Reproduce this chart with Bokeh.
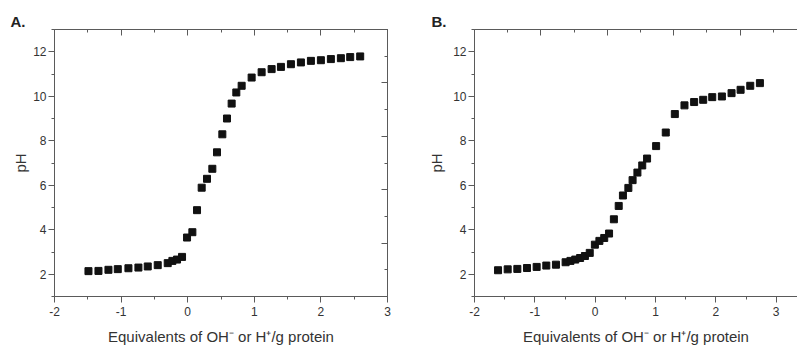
from bokeh.plotting import figure
from bokeh.layouts import row
from bokeh.models import (Range1d, LinearAxis, SingleIntervalTicker,
                          CustomJSTickFormatter)
from bokeh.embed import file_html
from bokeh.resources import INLINE

# Panel A data
xA = [-1.49, -1.34, -1.19, -1.05, -0.89, -0.74, -0.60, -0.45, -0.30, -0.23,
      -0.16, -0.085, -0.01, 0.07, 0.14, 0.21, 0.29, 0.37, 0.44, 0.52,
      0.59, 0.66, 0.73, 0.81, 0.96, 1.11, 1.26, 1.40, 1.55, 1.70,
      1.85, 2.00, 2.15, 2.30, 2.44, 2.59]
yA = [2.14, 2.15, 2.20, 2.23, 2.27, 2.30, 2.35, 2.41, 2.50, 2.60,
      2.66, 2.78, 3.65, 3.89, 4.88, 5.89, 6.29, 6.74, 7.48, 8.29,
      9.00, 9.67, 10.17, 10.47, 10.84, 11.08, 11.22, 11.32, 11.44, 11.52,
      11.59, 11.62, 11.67, 11.71, 11.76, 11.79]

# Panel B data
xB = [-1.61, -1.45, -1.29, -1.13, -0.97, -0.81, -0.65, -0.49, -0.41, -0.33,
      -0.25, -0.17, -0.09, -0.005, 0.07, 0.15, 0.23, 0.31, 0.39, 0.46,
      0.55, 0.62, 0.70, 0.78, 0.86, 1.01, 1.17, 1.32, 1.48, 1.64,
      1.79, 1.94, 2.10, 2.26, 2.41, 2.57, 2.73]
yB = [2.18, 2.22, 2.24, 2.28, 2.33, 2.39, 2.43, 2.54, 2.60, 2.66,
      2.73, 2.82, 2.96, 3.33, 3.50, 3.63, 3.83, 4.47, 5.07, 5.54,
      5.88, 6.23, 6.57, 6.89, 7.20, 7.76, 8.37, 9.20, 9.59, 9.74,
      9.84, 9.96, 9.99, 10.14, 10.29, 10.47, 10.59]

panel_titles = ["A.", "B."]
x_label = "Equivalents of OH\u207b or H\u207a/g protein"
y_label = "pH"

FONT = "Liberation Sans"
TXT = "#333333"
AX = "#5a5a5a"


def style_axis(ax, out=True, labels=True):
    ax.axis_line_color = AX
    ax.major_tick_line_color = AX
    ax.minor_tick_line_color = AX
    if out:
        ax.major_tick_out = 6
        ax.major_tick_in = 0
        ax.minor_tick_out = 3
        ax.minor_tick_in = 0
    else:
        ax.major_tick_out = 0
        ax.major_tick_in = 6
        ax.minor_tick_out = 0
        ax.minor_tick_in = 3
    ax.major_label_text_font = FONT
    ax.major_label_text_font_size = "12px"
    ax.major_label_text_color = TXT
    if labels:
        ax.formatter = CustomJSTickFormatter(code="return String(tick);")
    else:
        ax.formatter = CustomJSTickFormatter(code="return '';")
        ax.major_label_standoff = 0
    ax.axis_label_text_font = FONT
    ax.axis_label_text_font_size = "15px"
    ax.axis_label_text_font_style = "normal"
    ax.axis_label_text_color = TXT


def make_panel(xs, ys, title, width, left, right, x_end, top_end, title_off,
               right_axis, ylab_standoff):
    p = figure(width=width, height=347, output_backend="svg", toolbar_location=None,
               x_range=Range1d(-2, x_end), y_range=Range1d(1, 13),
               min_border_left=left, min_border_right=right,
               min_border_top=29, min_border_bottom=51,
               x_axis_location=None, y_axis_location=None,
               title=title)
    p.outline_line_color = None
    p.grid.visible = False
    p.background_fill_color = "white"
    p.border_fill_color = "white"

    p.title.align = "left"
    p.title.offset = title_off
    p.title.standoff = 0
    p.title.text_font = FONT
    p.title.text_font_size = "15px"
    p.title.text_font_style = "bold"
    p.title.text_color = "#222222"

    xb = LinearAxis(ticker=SingleIntervalTicker(interval=1, num_minor_ticks=2),
                    axis_label=x_label)
    style_axis(xb)
    xb.major_label_standoff = 4
    xb.axis_label_standoff = 9
    p.add_layout(xb, "below")

    yl = LinearAxis(ticker=SingleIntervalTicker(interval=2, num_minor_ticks=2),
                    axis_label=y_label)
    style_axis(yl)
    yl.major_label_standoff = 2
    yl.axis_label_standoff = ylab_standoff
    p.add_layout(yl, "left")

    p.extra_x_ranges = {"top": Range1d(-2, top_end)}
    xt = LinearAxis(x_range_name="top",
                    ticker=SingleIntervalTicker(interval=1, num_minor_ticks=2))
    style_axis(xt, out=False, labels=False)
    p.add_layout(xt, "above")

    if right_axis:
        p.extra_y_ranges = {"right": Range1d(0, 5)}
        yr = LinearAxis(y_range_name="right",
                        ticker=SingleIntervalTicker(interval=1, num_minor_ticks=2))
        style_axis(yr, out=False, labels=False)
        p.add_layout(yr, "right")

    p.scatter(xs, ys, marker="square", size=7, fill_color="#111111",
              line_color="#111111")
    return p


pA = make_panel(xA, yA, panel_titles[0], 400, 54, 13, 3, 3, 10 - 54, True, 1)
pB = make_panel(xB, yB, panel_titles[1], 397, 74, 0, 3.353, 2.864, 431 - 474, False, 5)

layout = row(pA, pB, spacing=0)
open("out.html", "w").write(file_html(layout, INLINE))
